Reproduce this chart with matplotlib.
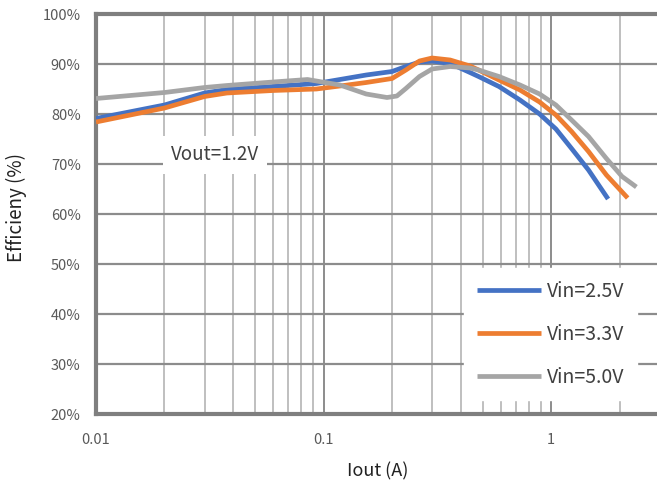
import matplotlib
matplotlib.use("Agg")
import matplotlib.pyplot as plt
from matplotlib.ticker import FixedLocator, NullFormatter, FixedFormatter

plt.rcParams['font.family'] = ['Noto Sans CJK JP', 'DejaVu Sans']

# Data
x_25 = [0.01, 0.02, 0.03, 0.0376, 0.06, 0.093, 0.118, 0.154, 0.20, 0.23, 0.264, 0.30, 0.36,
        0.44, 0.48, 0.59, 0.73, 0.89, 1.05, 1.23, 1.46, 1.78]
y_25 = [79.1, 81.8, 84.2, 84.9, 85.5, 86.1, 86.9, 87.8, 88.5, 89.5, 90.4, 90.6, 90.1,
        88.3, 87.5, 85.5, 82.8, 80.0, 77.0, 73.1, 68.8, 63.0]

x_33 = [0.01, 0.02, 0.03, 0.0376, 0.06, 0.093, 0.118, 0.154, 0.20, 0.23, 0.264, 0.30, 0.36,
        0.44, 0.48, 0.59, 0.73, 0.89, 1.05, 1.23, 1.46, 1.75, 2.17]
y_33 = [78.4, 81.2, 83.5, 84.2, 84.7, 85.0, 85.6, 86.3, 87.1, 88.8, 90.6, 91.2, 90.8,
        89.6, 88.8, 86.8, 84.8, 82.4, 79.8, 76.5, 72.5, 67.8, 63.2]

x_50 = [0.01, 0.02, 0.03, 0.0376, 0.06, 0.085, 0.118, 0.154, 0.19, 0.21, 0.23, 0.264, 0.30,
        0.36, 0.44, 0.48, 0.59, 0.73, 0.89, 1.05, 1.23, 1.46, 1.75, 2.05, 2.37]
y_50 = [83.1, 84.3, 85.3, 85.7, 86.4, 86.9, 85.8, 84.0, 83.3, 83.6, 85.1, 87.5, 89.0,
        89.5, 89.2, 88.8, 87.5, 85.8, 84.0, 81.8, 78.8, 75.5, 71.1, 67.5, 65.4]

labels = ['Vin=2.5V', 'Vin=3.3V', 'Vin=5.0V']
colors = ['#4472C4', '#ED7D31', '#A5A5A5']

y_ticks = [20, 30, 40, 50, 60, 70, 80, 90, 100]
y_ticklabels = ['20%', '30%', '40%', '50%', '60%', '70%', '80%', '90%', '100%']
x_ticks = [0.01, 0.1, 1]
x_ticklabels = ['0.01', '0.1', '1']

W, H = 657, 488
fig = plt.figure(figsize=(W / 100, H / 100), dpi=100)
ax = fig.add_axes([96 / W, 1 - 414 / H, 1 - 96 / W, (414 - 14) / H])
ax.set_xscale('log')
ax.set_xlim(0.01, 2.92)
ax.set_ylim(20, 100)

minor = [m * d for d in (0.01, 0.1, 1) for m in range(2, 10) if m * d < 2.92]
ax.xaxis.set_major_locator(FixedLocator(x_ticks))
ax.xaxis.set_major_formatter(FixedFormatter(x_ticklabels))
ax.xaxis.set_minor_locator(FixedLocator(minor))
ax.xaxis.set_minor_formatter(NullFormatter())
ax.yaxis.set_major_locator(FixedLocator(y_ticks))
ax.yaxis.set_major_formatter(FixedFormatter(y_ticklabels))
ax.grid(which='major', axis='y', color='#8c8c8c', lw=1.6, zorder=0)
ax.grid(which='major', axis='x', color='#8c8c8c', lw=1.4, zorder=0)
ax.grid(which='minor', axis='x', color='#b4b4b4', lw=1.2, zorder=0)
ax.set_axisbelow(True)

for s in ('left', 'bottom', 'top'):
    ax.spines[s].set_color('#7f7f7f')
    ax.spines[s].set_linewidth(3)
ax.spines['right'].set_visible(False)

ax.tick_params(which='both', length=0, colors='#595959', labelsize=10.5)
ax.tick_params(axis='y', pad=11)
ax.tick_params(axis='x', pad=14)

for xs, ys, lab, c in zip((x_25, x_33, x_50), (y_25, y_33, y_50), labels, colors):
    ax.plot(xs, ys, color=c, lw=3.4, label=lab, solid_capstyle='butt',
            solid_joinstyle='round', zorder=3)

leg = fig.legend(*ax.get_legend_handles_labels(), loc='upper left',
                 bbox_to_anchor=(464 / W, 1 - 268 / H),
                 frameon=True, fontsize=14, handlelength=3.3, handletextpad=0.3,
                 labelspacing=1.13, borderpad=0.65, borderaxespad=0, fancybox=False)
leg.get_frame().set_facecolor('white')
leg.get_frame().set_edgecolor('white')
leg.get_frame().set_alpha(1)
for t in leg.get_texts():
    t.set_color('#404040')

ax.text(0.0333, 71.8, 'Vout=1.2V', fontsize=13.5, color='#404040', ha='center', va='center',
        bbox=dict(facecolor='white', edgecolor='none', pad=6), zorder=4)

ax.set_xlabel('Iout (A)', fontsize=13, color='#222222')
ax.set_ylabel('Efficieny (%)', fontsize=13.5, color='#222222')
ax.xaxis.set_label_coords((378 - 96) / (W - 96), (414 - 462) / 400)
ax.yaxis.set_label_coords((27 - 96) / (W - 96), (414 - 207) / 400)

fig.savefig('out.png', dpi=100)
